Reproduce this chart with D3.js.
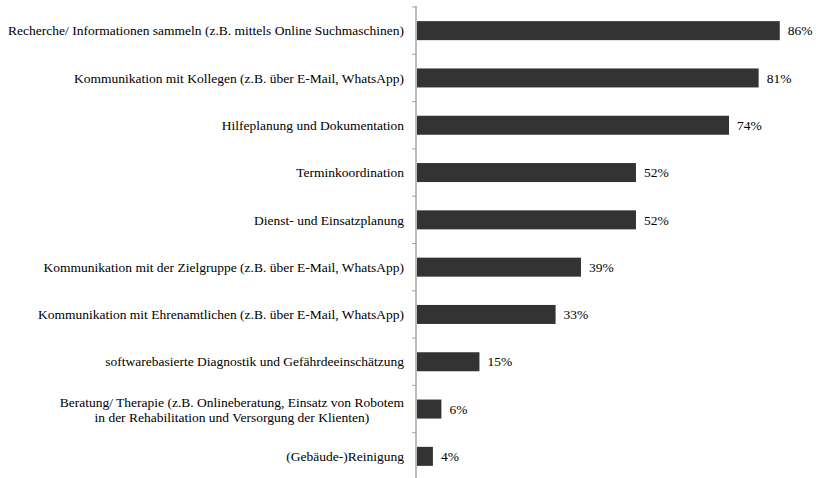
<!DOCTYPE html>
<html>
<head>
<meta charset="utf-8">
<script src="https://cdn.jsdelivr.net/npm/d3@7"></script>
<style>
    body { margin: 0; background: #fff; }
</style>
</head>
<body>
<div id="chart"></div>
<script>
var ctx = {
    w: 816,
    h: 478,
    font: "Liberation Serif"
};

// one entry per bar, lines split where the original label wraps
var categories = [
    ["Recherche/ Informationen sammeln (z.B. mittels Online Suchmaschinen)"],
    ["Kommunikation mit Kollegen (z.B. über E-Mail, WhatsApp)"],
    ["Hilfeplanung und Dokumentation"],
    ["Terminkoordination"],
    ["Dienst- und Einsatzplanung"],
    ["Kommunikation mit der Zielgruppe (z.B. über E-Mail, WhatsApp)"],
    ["Kommunikation mit Ehrenamtlichen (z.B. über E-Mail, WhatsApp)"],
    ["softwarebasierte Diagnostik und Gefährdeeinschätzung"],
    ["Beratung/ Therapie (z.B. Onlineberatung, Einsatz von Robotem", "in der Rehabilitation und Versorgung der Klienten)"],
    ["(Gebäude-)Reinigung"]
];
var values = [86, 81, 74, 52, 52, 39, 33, 15, 6, 4];

var createChart = function () {
    var svg = d3.select("#chart").append("svg")
        .attr("width", ctx.w)
        .attr("height", ctx.h)
        .attr("font-family", ctx.font)
        .attr("font-size", 13.5);

    var idx = d3.range(values.length);

    var x = d3.scaleLinear()
        .domain([0, 100])
        .range([416, 839]);

    // one band per category, axis ticks sit on the band edges
    var y = d3.scaleBand()
        .domain(idx)
        .range([7, 480]);

    var boundaries = idx.map(function (i) { return y(i); });
    var center = function (i) { return y(i) + y.bandwidth() / 2; };

    svg.append("line")
        .attr("x1", x(0)).attr("x2", x(0))
        .attr("y1", 6).attr("y2", 478)
        .style("stroke", "#a6a6a6")
        .style("stroke-width", 1.5);

    svg.selectAll(".tick")
        .data(boundaries)
        .enter().append("line")
        .attr("class", "tick")
        .attr("x1", x(0) - 4).attr("x2", x(0))
        .attr("y1", function (d) { return d; })
        .attr("y2", function (d) { return d; })
        .style("stroke", "#a6a6a6")
        .style("stroke-width", 1);

    svg.selectAll("rect")
        .data(idx)
        .enter().append("rect")
        .attr("x", x(0) + 1)
        .attr("y", function (i) { return center(i) - 9.5; })
        .attr("width", function (i) { return x(values[i]) - x(0) - 1; })
        .attr("height", 19)
        .style("fill", "#333333");

    svg.selectAll(".val")
        .data(idx)
        .enter().append("text")
        .attr("class", "val")
        .attr("x", function (i) { return x(values[i]) + 8; })
        .attr("y", function (i) { return center(i); })
        .attr("dy", "0.35em")
        .text(function (i) { return values[i] + "%"; });

    // category labels
    idx.forEach(function (i) {
        var lines = categories[i];
        if (lines.length == 1) {
            svg.append("text")
                .attr("x", 404)
                .attr("y", center(i))
                .attr("dy", "0.35em")
                .attr("text-anchor", "end")
                .text(lines[0]);
        } else {
            var first = svg.append("text")
                .attr("x", 404)
                .attr("y", center(i) - 7)
                .attr("dy", "0.35em")
                .attr("text-anchor", "end")
                .text(lines[0]);
            var len = first.node().getComputedTextLength();
            svg.append("text")
                .attr("x", 404 - len / 2)
                .attr("y", center(i) + 8)
                .attr("dy", "0.35em")
                .attr("text-anchor", "middle")
                .text(lines[1]);
        }
    });
};

createChart();
</script>
</body>
</html>
